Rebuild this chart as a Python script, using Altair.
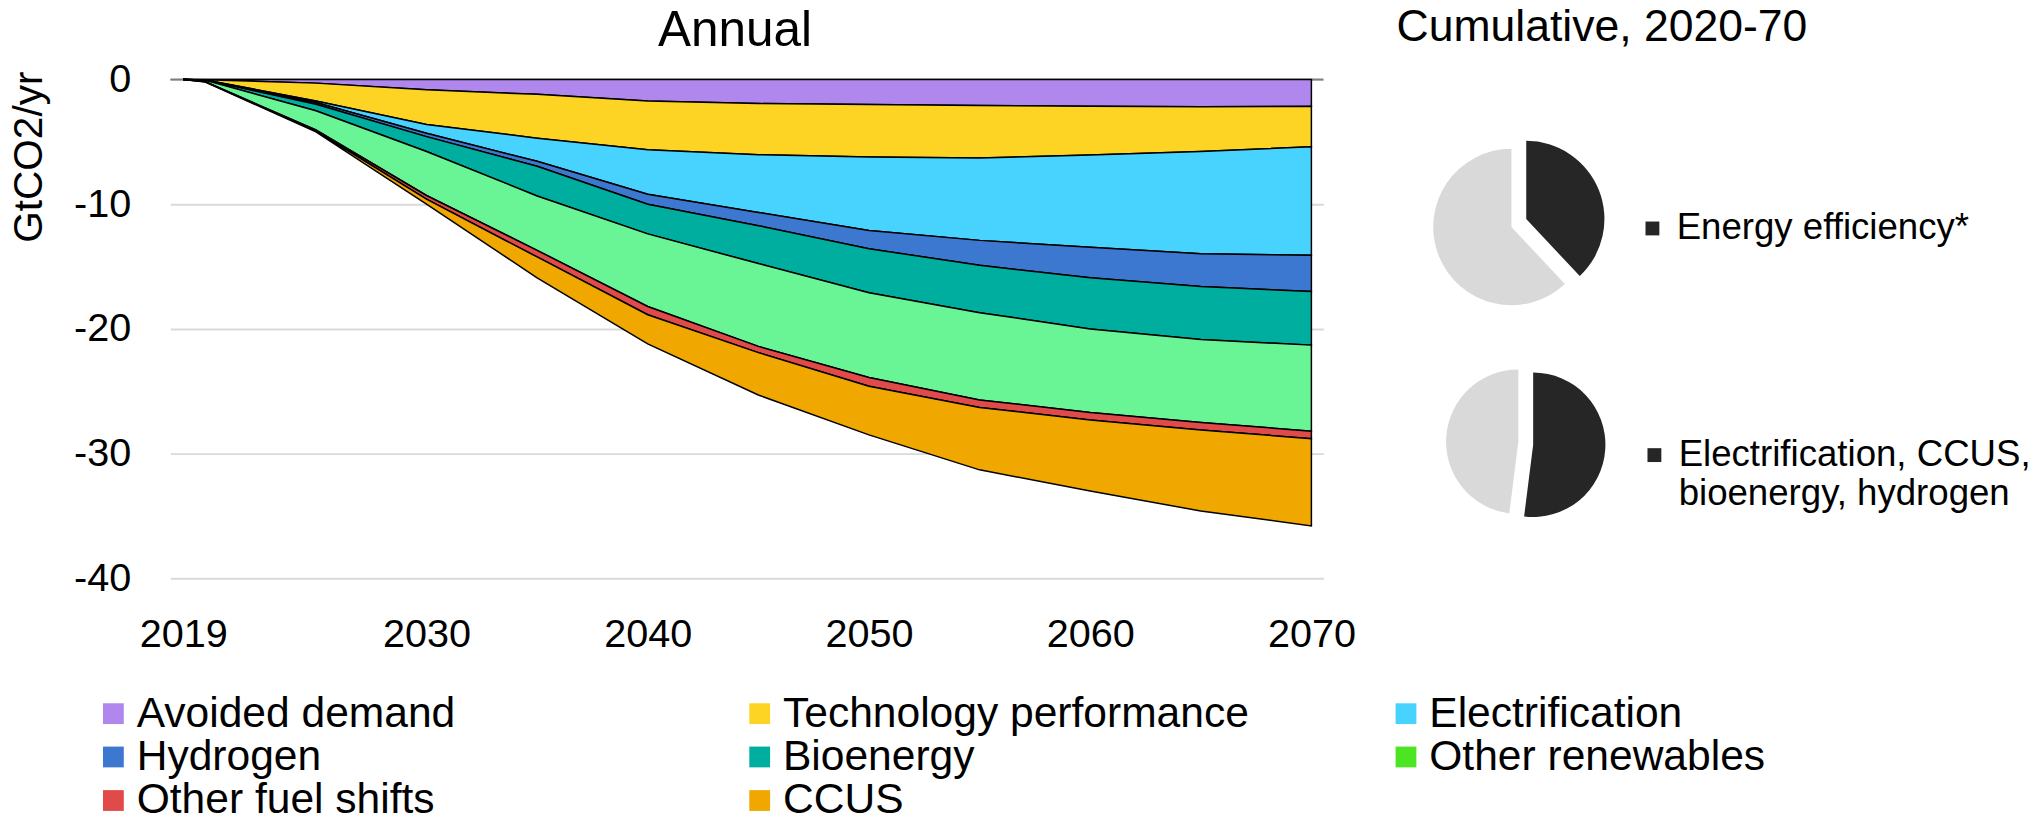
import altair as alt
import pandas as pd

FONT = "Liberation Sans"

years = [2019, 2020, 2025, 2030, 2035, 2040, 2045, 2050, 2055, 2060, 2065, 2070]
series = ["Avoided demand", "Technology performance", "Electrification", "Hydrogen",
          "Bioenergy", "Other renewables", "Other fuel shifts", "CCUS"]
avoided_demand = [0, -0.01, -0.29, -0.82, -1.19, -1.72, -1.93, -2.01, -2.09, -2.14, -2.19, -2.15]
technology_performance = [0, -0.02, -1.43, -2.78, -3.52, -3.91, -4.10, -4.21, -4.21, -3.91, -3.58, -3.25]
electrification = [0, -0.01, -0.13, -0.71, -1.85, -3.57, -4.63, -5.88, -6.60, -7.40, -8.20, -8.70]
hydrogen = [0, -0.005, -0.13, -0.27, -0.40, -0.80, -1.06, -1.47, -2.00, -2.45, -2.63, -2.90]
bioenergy = [0, -0.015, -0.53, -1.19, -2.38, -2.38, -3.04, -3.53, -3.80, -4.10, -4.25, -4.30]
other_renewables = [0, -0.11, -1.54, -3.53, -4.36, -5.82, -6.64, -6.80, -7.00, -6.70, -6.65, -6.90]
other_fuel_shifts = [0, -0.01, -0.08, -0.30, -0.53, -0.66, -0.50, -0.70, -0.60, -0.60, -0.60, -0.60]
ccus = [0, -0.02, -0.07, -0.40, -1.67, -2.34, -3.40, -3.90, -5.00, -5.70, -6.50, -7.00]

area_colors = ["#AF87ED", "#FDD324", "#48D3FF", "#3C78D0", "#00AEA0", "#69F595", "#E04A48", "#F0A800"]
legend_colors = ["#AF87ED", "#FDD324", "#48D3FF", "#3C78D0", "#00AEA0", "#4CE524", "#E04A48", "#F0A800"]

x_ticks = [2019, 2030, 2040, 2050, 2060, 2070]
y_ticks = [0, -10, -20, -30, -40]

pie1_labels = ["Energy efficiency*", "Other measures"]
pie1_values = [38, 62]
pie2_labels = ["Electrification, CCUS,\nbioenergy, hydrogen", "Other measures "]
pie2_values = [52, 48]

# ---- long table for the stacked areas
all_series = [avoided_demand, technology_performance, electrification, hydrogen,
              bioenergy, other_renewables, other_fuel_shifts, ccus]
rows = []
for i, (name, vals) in enumerate(zip(series, all_series)):
    for yr, v in zip(years, vals):
        rows.append({"year": yr, "series": name, "value": v, "idx": i})
df = pd.DataFrame(rows)

x_enc = alt.X(
    "year:Q",
    scale=alt.Scale(domain=[2018.42, 2070.54], nice=False, zero=False),
    axis=alt.Axis(values=x_ticks, format="d", grid=False, ticks=False, tickSize=0,
                  domain=False, labelPadding=37, labelFontSize=40, labelColor="black",
                  labelFont=FONT, labelFlush=False, title=None),
)

zero_rule = alt.Chart(pd.DataFrame({"v": [0]})).mark_rule(
    color="#7f7f7f", strokeWidth=2
).encode(y=alt.Y("v:Q", scale=alt.Scale(domain=[-40, 0], nice=False)))

areas = alt.Chart(df).mark_area(stroke="black", strokeWidth=1.5, interpolate="linear").encode(
    x=x_enc,
    y=alt.Y(
        "value:Q",
        stack="zero",
        scale=alt.Scale(domain=[-40, 0], nice=False),
        axis=alt.Axis(values=y_ticks, grid=True, gridColor="#d9d9d9", gridWidth=2,
                      domain=False, ticks=False, tickSize=0, labelPadding=40,
                      labelFontSize=40, labelColor="black", labelFont=FONT,
                      labelExpr="datum.value + ''",
                      title="GtCO2/yr", titleFontSize=41, titleFont=FONT,
                      titleFontWeight="normal", titleColor="black",
                      titleX=-142, titleY=78, titleAngle=270,
                      titleBaseline="middle", titleAlign="center"),
    ),
    color=alt.Color("series:N", scale=alt.Scale(domain=series, range=area_colors), legend=None),
    order=alt.Order("idx:Q", sort="ascending"),
)

legend_layer = alt.Chart(df).mark_square(opacity=0).encode(
    x=alt.X("year:Q"),
    y=alt.Y("value:Q", stack=None),
    color=alt.Color(
        "series:N",
        scale=alt.Scale(domain=series, range=legend_colors),
        legend=alt.Legend(
            title=None, orient="none", legendX=-79, legendY=619,
            direction="horizontal", columns=3, gridAlign="all",
            columnPadding=137, rowPadding=0, padding=0,
            symbolType="square", symbolSize=441, symbolStrokeWidth=0, symbolOpacity=1,
            labelFontSize=43, labelFont=FONT, labelColor="black", labelOffset=2,
            labelLimit=1000,
        ),
    ),
)

main = alt.layer(zero_rule, areas, legend_layer).resolve_scale(color="independent").properties(
    width=1165, height=504,
    title=alt.TitleParams("Annual", fontSize=50, font=FONT, fontWeight="normal",
                          color="black", anchor="middle", dx=-12, offset=4),
)


def pie(labels, values, radius, h, gray_off, dark_off, leg_x, leg_y, title=None):
    d = pd.DataFrame({"segment": labels, "share": values, "idx": [0, 1]})
    base = alt.Chart(d).encode(
        theta=alt.Theta("share:Q", stack=True),
        order=alt.Order("idx:Q", sort="ascending"),
        color=alt.Color(
            "segment:N",
            scale=alt.Scale(domain=labels, range=["#262626", "#d9d9d9"]),
            legend=alt.Legend(
                title=None, values=[labels[0]], orient="none", legendX=leg_x, legendY=leg_y,
                padding=0, symbolType="square", symbolSize=196, symbolStrokeWidth=0,
                symbolOpacity=1, labelFontSize=37, labelFont=FONT, labelColor="black",
                labelOffset=6, labelLimit=1000, labelExpr="split(datum.label, '\\n')",
            ),
        ),
    )
    gray = base.mark_arc(radius=radius, xOffset=gray_off[0], yOffset=gray_off[1]).encode(
        opacity=alt.condition("datum.idx == 1", alt.value(1), alt.value(0))
    )
    dark = base.mark_arc(radius=radius, xOffset=dark_off[0], yOffset=dark_off[1]).encode(
        opacity=alt.condition("datum.idx == 0", alt.value(1), alt.value(0))
    )
    props = dict(width=180, height=h)
    if title is not None:
        props["title"] = title
    return alt.layer(gray, dark).properties(**props)


pie1 = pie(pie1_labels, pie1_values, 79, 298, (-3, 0), (12, -8), 211, 132,
           title=alt.TitleParams("Cumulative, 2020-70", fontSize=45, font=FONT,
                                 fontWeight="normal", color="black", anchor="start",
                                 dx=-29, offset=30))
pie2 = pie(pie2_labels, pie2_values, 73, 138, (4, -1), (19, 2), 213, 63)

pies = alt.vconcat(pie1, pie2, spacing=0, bounds="flush").resolve_scale(color="independent")

chart = alt.hconcat(main, pies, spacing=103, bounds="flush").resolve_scale(
    color="independent"
).properties(
    padding={"left": 0, "top": -7, "right": 0, "bottom": 0}
).configure(font=FONT).configure_view(stroke=None)

chart.save("out.html", embed_options={"renderer": "svg", "actions": False})
